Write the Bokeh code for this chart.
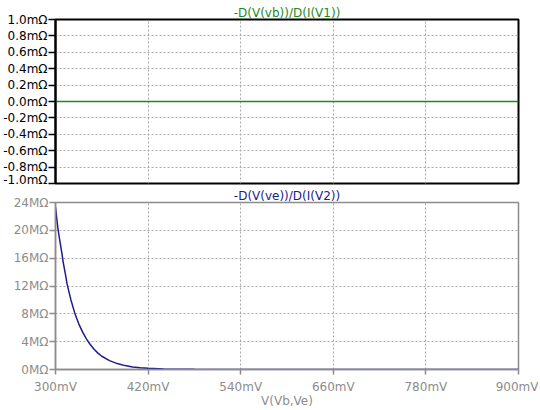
from bokeh.plotting import figure
from bokeh.layouts import column
from bokeh.models import Range1d, FixedTicker, CustomJSTickFormatter
from bokeh.embed import file_html
from bokeh.resources import INLINE

# ---- data ----
x_ticks_mv = [300, 420, 540, 660, 780, 900]
top_y_ticks = [-1.0, -0.8, -0.6, -0.4, -0.2, 0.0, 0.2, 0.4, 0.6, 0.8, 1.0]
bot_y_ticks = [0, 4, 8, 12, 16, 20, 24]

vb_x_mv = [300, 900]
vb_val_mohm = [0.0, 0.0]

ve_x_mv = [300, 303, 305, 308, 310, 313, 315, 318, 320, 325, 330, 335, 340, 345,
           350, 355, 360, 370, 380, 390, 400, 410, 420, 440, 460, 480, 500,
           540, 600, 660, 720, 780, 840, 900]
ve_val_megohm = [23.3, 20.4, 18.9, 16.9, 15.4, 13.6, 12.3, 10.9, 10.0, 8.1, 6.6,
                 5.4, 4.4, 3.6, 2.9, 2.35, 1.9, 1.28, 0.85, 0.56, 0.37, 0.25,
                 0.17, 0.08, 0.04, 0.02, 0.01, 0.003, 0.0, 0.0, 0.0, 0.0, 0.0, 0.0]

title_top = "-D(V(vb))/D(I(V1))"
title_bot = "-D(V(ve))/D(I(V2))"
x_label = "V(Vb,Ve)"

FONT = "DejaVu Sans"
FS = "12px"
GRID = "#a8a8a8"
GRAY = "#8c8c8c"
GREEN = "#1e8a1e"
NAVY = "#1c1c8c"

W = 538

# ---- top pane ----
p1 = figure(width=W, height=186, output_backend="svg", toolbar_location=None,
            x_range=Range1d(300, 900), y_range=Range1d(-1.0, 1.0),
            min_border_left=52, min_border_right=W - 518, min_border_top=19,
            min_border_bottom=3)
p1.title.text = title_top
p1.title.align = "center"
p1.title.text_color = GREEN
p1.title.text_font = FONT
p1.title.text_font_size = FS
p1.title.text_font_style = "normal"
p1.title.standoff = 0
p1.xaxis.visible = False
p1.xaxis.ticker = FixedTicker(ticks=x_ticks_mv)
p1.yaxis.ticker = FixedTicker(ticks=top_y_ticks)
p1.yaxis.formatter = CustomJSTickFormatter(code='return tick.toFixed(1) + "m\u03a9";')
p1.yaxis.major_label_text_font = FONT
p1.yaxis.major_label_text_font_size = FS
p1.yaxis.major_label_text_color = "black"
p1.yaxis.axis_line_color = "black"
p1.yaxis.axis_line_width = 2
p1.yaxis.major_tick_line_color = "black"
p1.yaxis.major_tick_line_width = 1.5
p1.yaxis.major_tick_out = 7
p1.yaxis.major_tick_in = 0
p1.yaxis.minor_tick_line_color = None
p1.yaxis.major_label_standoff = 1
p1.outline_line_color = "black"
p1.outline_line_width = 2
p1.outline_line_alpha = 1
p1.grid.grid_line_color = GRID
p1.grid.grid_line_dash = "2 2"
p1.grid.grid_line_width = 1
p1.line(vb_x_mv, vb_val_mohm, line_color=GREEN, line_width=1.5)

# ---- bottom pane ----
p2 = figure(width=W, height=224, output_backend="svg", toolbar_location=None,
            x_range=Range1d(300, 900), y_range=Range1d(0, 24),
            min_border_left=52, min_border_right=W - 518, min_border_top=16,
            min_border_bottom=40)
p2.title.text = title_bot
p2.title.align = "center"
p2.title.text_color = NAVY
p2.title.text_font = FONT
p2.title.text_font_size = FS
p2.title.text_font_style = "normal"
p2.title.standoff = 0
p2.xaxis.ticker = FixedTicker(ticks=x_ticks_mv)
p2.xaxis.formatter = CustomJSTickFormatter(code='return tick.toFixed(0) + "mV";')
p2.yaxis.ticker = FixedTicker(ticks=bot_y_ticks)
p2.yaxis.formatter = CustomJSTickFormatter(code='return tick.toFixed(0) + "M\u03a9";')
p2.xaxis.axis_label = x_label
p2.xaxis.axis_label_text_font = FONT
p2.xaxis.axis_label_text_font_size = FS
p2.xaxis.axis_label_text_font_style = "normal"
p2.xaxis.axis_label_text_color = GRAY
p2.xaxis.axis_label_standoff = -3
for ax in (p2.xaxis, p2.yaxis):
    ax.major_label_text_font = FONT
    ax.major_label_text_font_size = FS
    ax.major_label_text_color = GRAY
    ax.axis_line_color = GRAY
    ax.axis_line_width = 1.5
    ax.major_tick_line_color = GRAY
    ax.major_tick_line_width = 1.5
    ax.major_tick_out = 6
    ax.major_tick_in = 0
    ax.minor_tick_line_color = None
p2.yaxis.major_label_standoff = 1
p2.xaxis.major_tick_out = 5
p2.xaxis.major_label_standoff = 5
p2.outline_line_color = GRAY
p2.outline_line_width = 1.5
p2.outline_line_alpha = 1
p2.grid.grid_line_color = GRID
p2.grid.grid_line_dash = "2 2"
p2.grid.grid_line_width = 1
p2.line(ve_x_mv, ve_val_megohm, line_color=NAVY, line_width=1.5)

layout = column(p1, p2, spacing=0)

open("out.html", "w").write(file_html(layout, INLINE))
